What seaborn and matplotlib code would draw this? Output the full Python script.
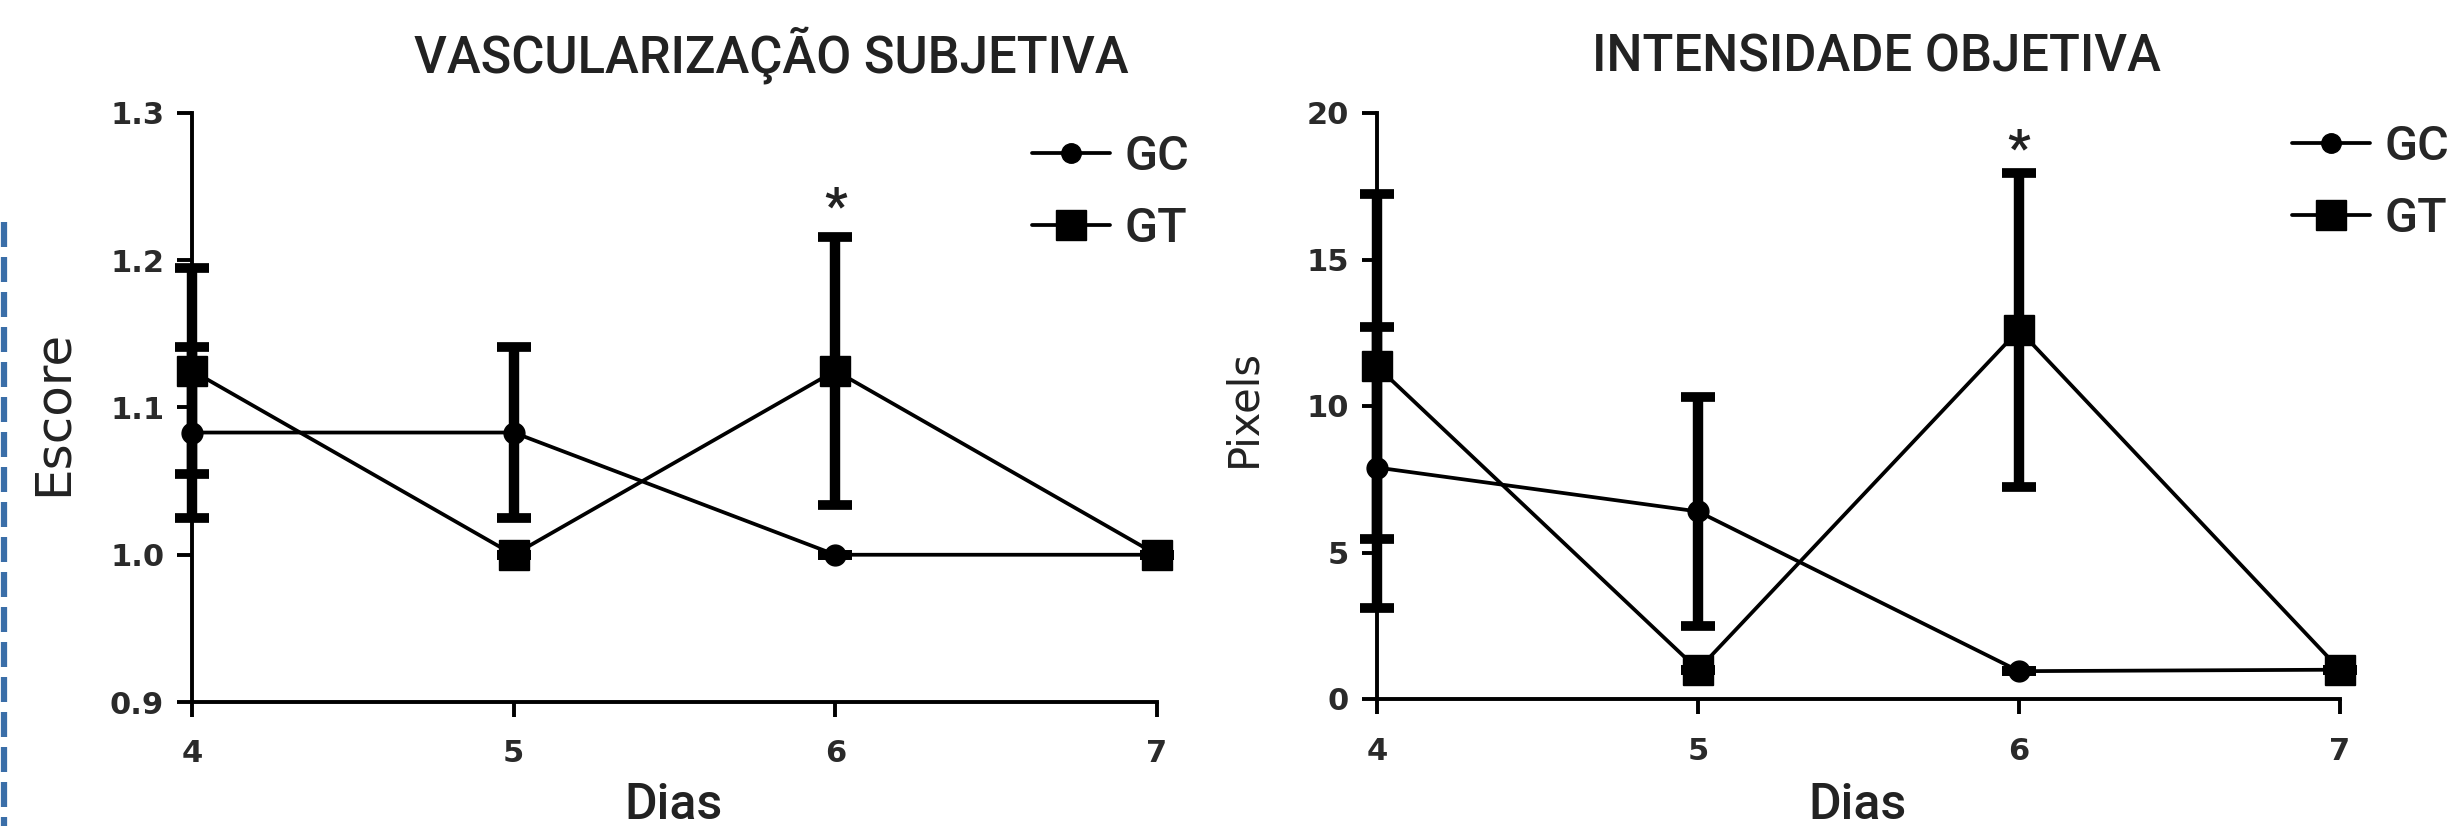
import matplotlib
matplotlib.use("Agg")
import matplotlib.pyplot as plt
import pandas as pd
import seaborn as sns
from matplotlib.lines import Line2D

# Data (mean and error per day)
days = [4, 5, 6, 7]

escore_gc = [1.083, 1.083, 1.0, 1.0]
escore_gc_err = [0.058, 0.058, 0.0, 0.0]
escore_gt = [1.125, 1.0, 1.125, 1.0]
escore_gt_err = [0.07, 0.0, 0.091, 0.0]

pixels_gc = [7.9, 6.4, 0.95, 1.0]
pixels_gc_err = [4.8, 3.9, 0.0, 0.0]
pixels_gt = [11.35, 1.0, 12.6, 1.0]
pixels_gt_err = [5.9, 0.0, 5.35, 0.0]

escore_ticks = [0.9, 1.0, 1.1, 1.2, 1.3]
pixels_ticks = [0, 5, 10, 15, 20]

HEAD = ["Roboto", "DejaVu Sans"]

sns.set_style("ticks")
plt.rcParams["font.family"] = ["DejaVu Sans"]


def draw_panel(ax, gc, gc_err, gt, gt_err, ylim, yticks, tick_fmt, star_y):
    df = pd.DataFrame({
        "Dias": days * 2,
        "valor": gc + gt,
        "grupo": ["GC"] * len(days) + ["GT"] * len(days),
    })
    sns.lineplot(data=df, x="Dias", y="valor", style="grupo",
                 markers={"GC": "o", "GT": "s"}, dashes=False,
                 color="black", linewidth=2.7, legend=False, ax=ax,
                 markersize=0, clip_on=False, zorder=3)
    for vals, errs, mk, ms in ((gc, gc_err, "o", 15), (gt, gt_err, "s", 22)):
        ax.errorbar(days, vals, yerr=errs, fmt="none", ecolor="black",
                    elinewidth=7.5, capsize=12, capthick=7, clip_on=False, zorder=4)
        ax.plot(days, vals, linestyle="none", marker=mk, markersize=ms,
                color="black", clip_on=False, zorder=5)
    ax.text(6, star_y, "*", ha="center", va="center", fontsize=36,
            family=HEAD, fontweight="bold", color="#222222")

    ax.set_xlim(4, 7)
    ax.set_ylim(*ylim)
    ax.set_xticks(days)
    ax.set_yticks(yticks)
    ax.set_yticklabels([tick_fmt.format(t) for t in yticks])
    ax.set_xlabel("")
    ax.set_ylabel("")
    for s in ("top", "right"):
        ax.spines[s].set_visible(False)
    for s in ("left", "bottom"):
        ax.spines[s].set_linewidth(2.8)
        ax.spines[s].set_color("black")
    ax.tick_params(axis="both", length=11, width=2.8, color="black",
                   labelsize=22, labelcolor="#2a2a2a")
    ax.tick_params(axis="x", pad=16)
    ax.tick_params(axis="y", pad=9)
    for lab in ax.get_xticklabels() + ax.get_yticklabels():
        lab.set_fontweight("bold")

    handles = [
        Line2D([], [], color="black", marker="o", markersize=14, linewidth=2.7),
        Line2D([], [], color="black", marker="s", markersize=21, linewidth=2.7),
    ]
    return handles


fig = plt.figure(figsize=(24.57, 8.26), dpi=100)
fig.patch.set_facecolor("white")

W, H = 2457, 826
ax1 = fig.add_axes([192 / W, 1 - 702 / H, (1157 - 192) / W, (702 - 113) / H])
ax2 = fig.add_axes([1377 / W, 1 - 699 / H, (2340 - 1377) / W, (699 - 113) / H])

h1 = draw_panel(ax1, escore_gc, escore_gc_err, escore_gt, escore_gt_err,
                (0.9, 1.3), escore_ticks, "{:.1f}", 1.235)
h2 = draw_panel(ax2, pixels_gc, pixels_gc_err, pixels_gt, pixels_gt_err,
                (0, 20), pixels_ticks, "{:d}", 18.7)

for ax, h, anchor in ((ax1, h1, (1032 / W, 1 - 134 / H)),
                      (ax2, h2, (2292 / W, 1 - 124 / H))):
    ax.legend(h, ["GC", "GT"], loc="upper left", bbox_to_anchor=anchor,
              bbox_transform=fig.transFigure, frameon=False, borderpad=0,
              borderaxespad=0, handlelength=1.6, handletextpad=0.3,
              labelspacing=0.54,
              prop={"family": HEAD, "size": 35, "weight": "medium"})

# titles and axis labels
fig.text(771 / W, 1 - 55 / H, "VASCULARIZAÇÃO SUBJETIVA", ha="center", va="center",
         fontsize=36.5, family=HEAD, fontweight="medium", color="#222222")
fig.text(1876 / W, 1 - 58 / H, "INTENSIDADE OBJETIVA", ha="center", va="center",
         fontsize=36.5, family=HEAD, fontweight="medium", color="#222222")
fig.text(53 / W, 1 - 413 / H, "Escore", rotation=90, ha="center", va="center",
         fontsize=36, color="#222222")
fig.text(1243 / W, 1 - 408 / H, "Pixels", rotation=90, ha="center", va="center",
         fontsize=30, color="#222222")
fig.text(674 / W, 1 - 805 / H, "Dias", ha="center", va="center",
         fontsize=36, family=HEAD, fontweight="medium", color="#222222")
fig.text(1857 / W, 1 - 805 / H, "Dias", ha="center", va="center",
         fontsize=36, family=HEAD, fontweight="medium", color="#222222")

# dashed blue border at the left edge
fig.add_artist(Line2D([4 / W, 4 / W], [1 - 222 / H, 0], transform=fig.transFigure,
                      color="#3a6ea8", linewidth=4.5, linestyle=(0, (4, 1.6))))

fig.savefig("out.png", dpi=100, facecolor="white")
